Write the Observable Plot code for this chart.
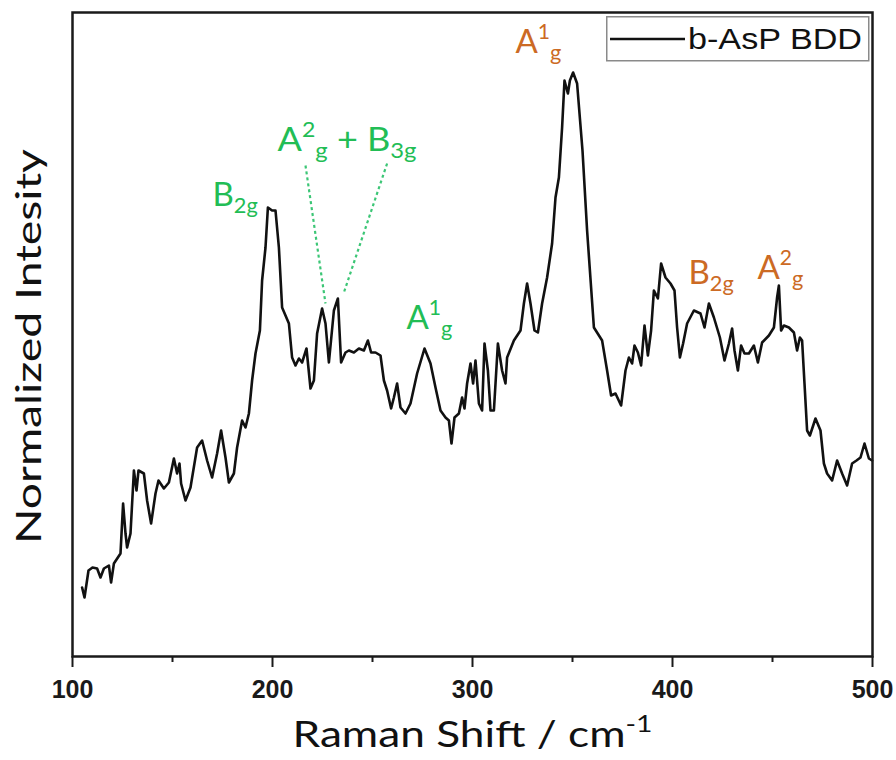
<!DOCTYPE html>
<html><head><meta charset="utf-8">
<script src="https://cdn.jsdelivr.net/npm/d3@7"></script>
<script src="https://cdn.jsdelivr.net/npm/@observablehq/plot@0.6"></script>
<style>
body{margin:0;background:#fff}
#wrap{position:relative;width:896px;height:760px}
#legend{position:absolute;left:606px;top:16px}
</style></head>
<body><div id="wrap"></div>
<script>
// ---- data ----
const ramanShift = [104.8,106,108,110,112.3,114,115.7,118.2,119.3,120.7,124,125.3,126.5,127.3,129,130.7,132,133,135.7,137.3,139.3,141.5,143,145.7,148.2,150.7,152.3,153.5,154.3,156.5,159,162.3,164.8,167.3,169.8,172.3,174.3,176.5,178.2,180.7,182.3,184.8,186.5,188.2,189.8,191.5,193.7,194.8,196.5,197.7,199.8,201.5,203.2,204.8,208.2,209.8,211.5,213.2,214.8,217,219,220.7,222.3,224.8,226.5,228.2,230.7,232.7,234.3,236.5,238.2,240.7,243.2,245.7,247.7,249.3,251.5,254,255.7,257.3,259.3,260.7,262.3,264,266.5,269,272.3,276,279,281.5,284,286.5,288.2,289.5,291,293.2,294.8,296,297.3,299,300.3,301.5,303.2,304.8,306,307.7,309,310.7,312.7,314.8,316.5,317.3,320.7,324,325.7,327.3,329,331,332.7,334.8,337.3,339.8,341.5,343.2,344.8,346,347.7,348.7,350.3,352.3,355,357.3,360.7,364.8,367.3,369.3,371.5,374.3,376.5,378.2,379.8,381,382.7,384.3,386,387.7,389.3,390.7,392.7,394.3,396.5,399,401,402.3,403.7,405.3,407.3,410.7,414,416,418.2,420.7,423.7,426,428.2,429.8,431,432.7,434.3,436,438.2,440.7,442.7,444.8,448.2,450.7,452.3,453.2,454.3,455.7,458.2,460.7,462.3,463.7,464.8,466,467.3,468.7,471.5,474,475.7,477.3,479.8,482.3,484.8,487.3,489.8,492,494,496,498.2,499.8];
const intensity = [69,59,86,89,88,79,88,91,74,93,103,153,123,109,123,186,166,186,183,156,133,163,176,168,174,198,183,193,173,156,169,209,216,196,179,203,226,199,174,183,209,236,229,243,276,303,326,376,409,449,446,446,409,349,333,299,291,298,294,308,268,276,323,348,333,294,346,358,294,304,306,304,308,306,316,304,304,301,276,266,248,259,273,249,243,253,283,308,293,269,246,239,236,213,239,243,259,248,273,293,273,296,253,246,313,286,246,246,313,286,273,299,316,326,353,373,353,326,324,353,379,413,459,479,529,576,563,576,584,573,506,426,329,316,286,261,263,251,286,299,293,311,304,291,331,301,326,366,358,393,379,373,366,329,299,313,333,346,343,329,353,339,319,296,313,328,306,286,311,303,303,311,294,314,321,329,359,371,326,331,329,324,306,319,316,273,226,221,238,226,193,183,176,196,183,171,193,196,199,213,198,196];
const majorTicks = [100, 200, 300, 400, 500];
const minorTicks = [150, 250, 350, 450];
const annoLabels = ["B_{2g}", "A^{2}_{g} + B_{3g}", "A^{1}_{g}", "A^{1}_{g}", "B_{2g}", "A^{2}_{g}"];
const annoShift = [170, 202.5, 267, 321.5, 408, 442.5];
const annoLevel = [451, 506, 328, 604, 373, 378];
const annoGroup = ["green", "green", "green", "orange", "orange", "orange"];
const leaderStartX = [216.5, 257.3];
const leaderStartY = [491, 493];
const leaderEndX = [226.5, 235.7];
const leaderEndY = [353, 364];
const xLabel = "Raman Shift / cm^{-1}";
const yLabel = "Normalized Intesity";
const seriesName = "b-AsP BDD";

// ---- styles ----
const colors = {green: "#22bd55", orange: "#cc6a24"};
const lineGreen = "#3cc676";

const spectrum = ramanShift.map((x, i) => ({x, y: intensity[i]}));
const annos = annoLabels.map((t, i) => ({t, x: annoShift[i], y: annoLevel[i], c: colors[annoGroup[i]]}));
const leaders = leaderStartX.map((x1, i) => ({x1, y1: leaderStartY[i], x2: leaderEndX[i], y2: leaderEndY[i]}));

const chart = Plot.plot({
  width: 896, height: 760,
  marginLeft: 72, marginRight: 24, marginTop: 12, marginBottom: 104,
  x: {domain: [100, 500]},
  y: {domain: [0, 644], axis: null},
  style: {background: "white", color: "#1a1a1a", overflow: "visible"},
  marks: [
    Plot.axisX({ticks: majorTicks, tickSize: 11, tickPadding: 13, strokeWidth: 2, fontSize: 25, fontWeight: "bold", fontFamily: "Liberation Sans, Arial, sans-serif", label: null}),
    Plot.axisX({ticks: minorTicks, tickSize: 6, strokeWidth: 2, tickFormat: () => "", label: null}),
    Plot.link(leaders, {x1: "x1", y1: "y1", x2: "x2", y2: "y2", stroke: lineGreen, strokeWidth: 2.2, strokeDasharray: "3,3"}),
    Plot.line(spectrum, {x: "x", y: "y", stroke: "#111", strokeWidth: 2.6, strokeLinejoin: "round"}),
    Plot.text(annos, {x: "x", y: "y", text: "t", fill: "c", fontSize: 33, fontFamily: "Lato, sans-serif", textAnchor: "start", lineAnchor: "bottom"}),
    Plot.text([xLabel], {frameAnchor: "bottom", dy: 90.7, lineAnchor: "bottom", textAnchor: "middle", fontSize: 36, fontFamily: "Lato, sans-serif", fill: "#111"}),
    Plot.text([yLabel], {frameAnchor: "left", rotate: -90, dx: -32, dy: 12, lineAnchor: "bottom", textAnchor: "middle", fontSize: 34, fontFamily: "Lato, sans-serif", fill: "#111"}),
    Plot.frame({stroke: "#1a1a1a", strokeWidth: 2.5})
  ]
});
const wrap = document.getElementById("wrap");
wrap.appendChild(chart);

// rich text: ^{..} superscript, _{..} subscript
function richify(root) {
  root.querySelectorAll("text").forEach(t => {
    const s = t.textContent;
    if (!/[\^_]\{/.test(s)) return;
    const fs = parseFloat(getComputedStyle(t).fontSize);
    const parts = s.split(/(\^\{[^}]*\}|_\{[^}]*\})/).filter(p => p !== "");
    t.textContent = "";
    let cur = 0;
    for (const p of parts) {
      let target = 0, size = null, txt = p;
      if (p.startsWith("^{")) { target = -0.42 * fs; size = 0.64 * fs; txt = p.slice(2, -1); }
      else if (p.startsWith("_{")) { target = 0.24 * fs; size = 0.66 * fs; txt = p.slice(2, -1); }
      const ts = document.createElementNS("http://www.w3.org/2000/svg", "tspan");
      if (target !== cur) ts.setAttribute("dy", (target - cur).toFixed(2));
      if (size) ts.setAttribute("font-size", size.toFixed(2));
      ts.textContent = txt;
      t.appendChild(ts);
      cur = target;
    }
  });
}
richify(chart);
const fitText = {[yLabel]: 395, ["Raman Shift / cm-1"]: 360, ["A2g + B3g"]: 139};
chart.querySelectorAll("text").forEach(t => {
  const w = fitText[t.textContent];
  if (w) { t.setAttribute("textLength", w); t.setAttribute("lengthAdjust", "spacingAndGlyphs"); }
});

// legend
const lg = d3.select(wrap).append("svg").attr("id", "legend").attr("width", 264).attr("height", 46);
lg.append("rect").attr("x", 0.75).attr("y", 0.75).attr("width", 262).attr("height", 44).attr("fill", "white").attr("stroke", "#8a8a8a").attr("stroke-width", 1.5);
lg.append("line").attr("x1", 4).attr("x2", 79).attr("y1", 23).attr("y2", 23).attr("stroke", "#111").attr("stroke-width", 2.3);
lg.append("text").attr("x", 82).attr("y", 33).attr("font-family", "Liberation Sans, Arial, sans-serif").attr("font-size", 30)
  .attr("fill", "#111").attr("textLength", 174).attr("lengthAdjust", "spacingAndGlyphs").text(seriesName);
</script></body></html>
